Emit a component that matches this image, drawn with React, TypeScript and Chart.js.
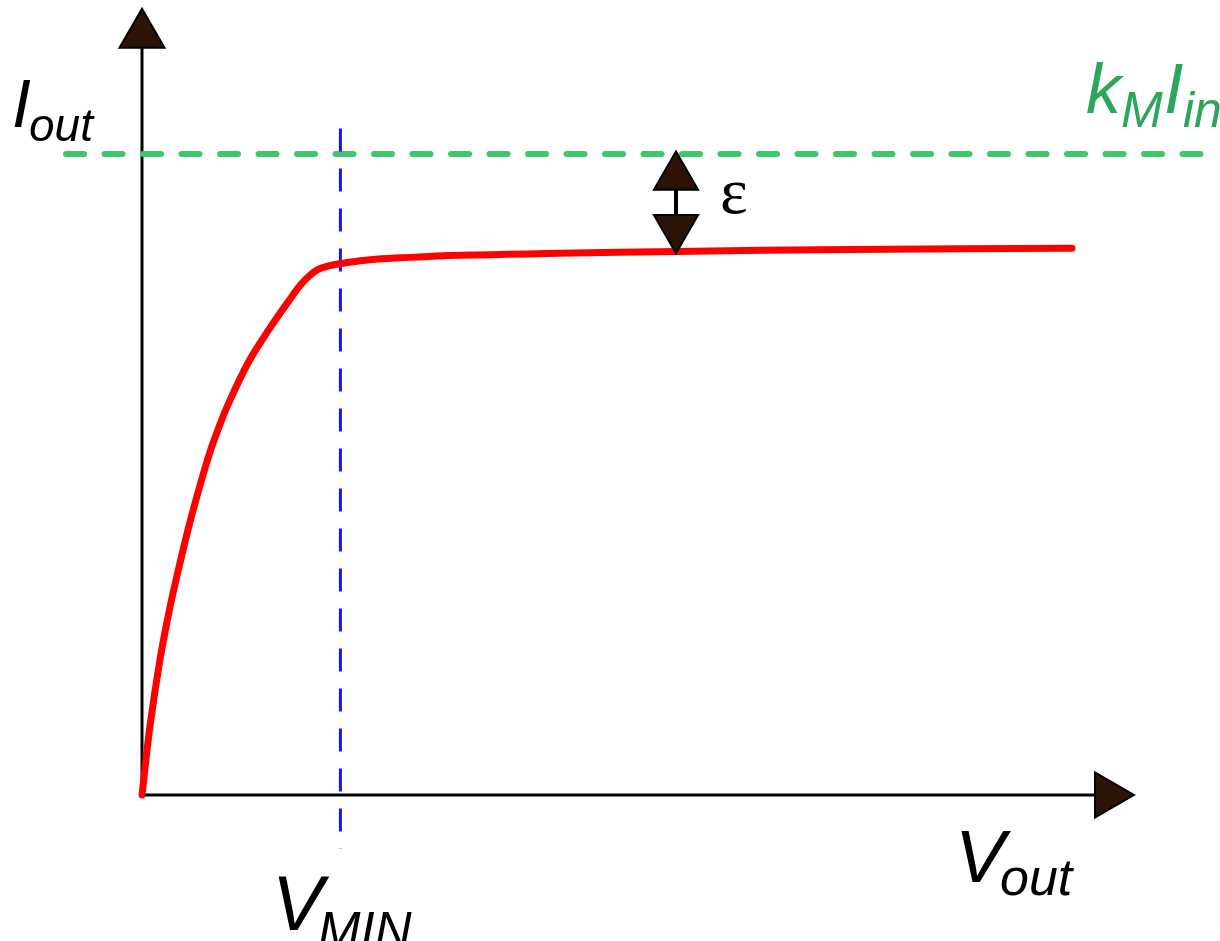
import React, { useEffect, useRef } from "react";
import { Chart, registerables } from "chart.js";
Chart.register(...registerables);

// Output characteristic (normalised: Iout / (kM*Iin), Vout in units of VMIN/2)
const voutValues = [0, 0.081, 0.181, 0.282, 0.383, 0.484, 0.585, 0.685, 0.776, 0.867, 1.069, 1.27, 1.462, 1.623, 1.764, 1.895, 2.046, 2.298, 2.601, 3.206, 4.214, 5.383, 7.137, 9.375];
const ioutValues = [0, 0.108, 0.211, 0.293, 0.362, 0.426, 0.483, 0.535, 0.574, 0.609, 0.674, 0.724, 0.767, 0.8, 0.819, 0.826, 0.83, 0.835, 0.838, 0.842, 0.845, 0.848, 0.851, 0.853];

// Ideal current level kM*Iin
const idealLevel = 1.0;
const idealSpan = [-0.766, 10.77];

// VMIN marker
const vminValue = 2.0;
const vminSpan = [1.04, -0.084];

// Axis extents
const xAxisEnd = 9.63;
const xArrowCenter = 9.738;
const yAxisEnd = 1.165;
const yArrowCenter = 1.186;
const xMax = 10;
const yMax = 1.2278;

// Error (epsilon) marker
const epsX = 5.383;
const epsUpperHead = 0.964;
const epsLowerHead = 0.885;
const epsShaft = [0.949, 0.902];

const W = 1220;
const H = 941;

const ARROW_FILL = "#2b1306";

const labelPlugin = {
  id: "labels",
  afterDatasetsDraw(chart: any) {
    const ctx = chart.ctx as CanvasRenderingContext2D;
    ctx.save();
    ctx.textBaseline = "alphabetic";
    ctx.textAlign = "left";
    const draw = (t: string, x: number, y: number, font: string, color: string) => {
      ctx.font = font;
      ctx.fillStyle = color;
      ctx.fillText(t, x, y);
    };
    const sans = "'Liberation Sans', Arial, sans-serif";
    // I_out
    draw("I", 12, 127, `italic 68px ${sans}`, "#000");
    draw("out", 29, 141, `italic 46px ${sans}`, "#000");
    // kM Iin
    const g = "#2ca65a";
    draw("k", 1086, 113, `italic 70px ${sans}`, g);
    draw("M", 1121, 127, `italic 50px ${sans}`, g);
    draw("I", 1164, 113, `italic 70px ${sans}`, g);
    draw("in", 1183, 127, `italic 50px ${sans}`, g);
    // V_out
    draw("V", 955, 882, `italic 75px ${sans}`, "#000");
    draw("out", 1000, 895, `italic 52px ${sans}`, "#000");
    // V_MIN
    draw("V", 272, 930, `italic 77px ${sans}`, "#000");
    draw("MIN", 318, 948, `italic 51px ${sans}`, "#000");
    // epsilon
    draw("ε", 720, 213, `66px 'Liberation Serif', 'DejaVu Serif', serif`, "#000");
    ctx.restore();
  },
};

export default function App() {
  const ref = useRef<HTMLCanvasElement | null>(null);
  useEffect(() => {
    if (!ref.current) return;
    const pts = (xs: number[], ys: number[]) => xs.map((x, i) => ({ x, y: ys[i] }));
    const base = { showLine: true, pointRadius: 0, clip: false as any, fill: false, tension: 0 };
    const chart = new Chart(ref.current, {
      type: "line",
      data: {
        datasets: [
          // epsilon arrow heads
          {
            ...base,
            showLine: false,
            data: [
              { x: epsX, y: epsUpperHead },
              { x: epsX, y: epsLowerHead },
            ],
            pointStyle: "triangle",
            pointRadius: 25.5,
            pointRotation: [0, 180] as any,
            pointBorderWidth: 2,
            pointBackgroundColor: ARROW_FILL,
            pointBorderColor: "#000",
          } as any,
          {
            ...base,
            data: [
              { x: epsX, y: epsShaft[0] },
              { x: epsX, y: epsShaft[1] },
            ],
            borderColor: "#000",
            borderWidth: 4,
          },
          // red curve
          {
            ...base,
            data: pts(voutValues, ioutValues),
            borderColor: "#ff0000",
            borderWidth: 7,
            tension: 0.4,
            borderCapStyle: "round",
            borderJoinStyle: "round",
          } as any,
          // VMIN dashed line
          {
            ...base,
            data: [
              { x: vminValue, y: vminSpan[0] },
              { x: vminValue, y: vminSpan[1] },
            ],
            borderColor: "#1414ff",
            borderWidth: 3,
            borderDash: [23, 17],
          },
          // ideal level dashed
          {
            ...base,
            data: [
              { x: idealSpan[0], y: idealLevel },
              { x: idealSpan[1], y: idealLevel },
            ],
            borderColor: "#3ec76c",
            borderWidth: 6,
            borderDash: [18, 20.5],
            borderCapStyle: "round",
          } as any,
          // axis arrow heads
          {
            ...base,
            showLine: false,
            data: [
              { x: 0, y: yArrowCenter },
              { x: xArrowCenter, y: 0 },
            ],
            pointStyle: "triangle",
            pointRadius: 26,
            pointRotation: [0, 90] as any,
            pointBorderWidth: 2,
            pointBackgroundColor: ARROW_FILL,
            pointBorderColor: "#000",
          } as any,
          // axes
          {
            ...base,
            data: [
              { x: 0, y: yAxisEnd },
              { x: 0, y: 0 },
              { x: xAxisEnd, y: 0 },
            ],
            borderColor: "#000",
            borderWidth: 3,
          },
        ],
      },
      options: {
        animation: false,
        responsive: false,
        events: [],
        layout: { autoPadding: false, padding: { left: 142, right: W - 1134, top: 8, bottom: H - 795 } },
        plugins: { legend: { display: false }, tooltip: { enabled: false } },
        scales: {
          x: { type: "linear", min: 0, max: xMax, display: false },
          y: { type: "linear", min: 0, max: yMax, display: false },
        },
      } as any,
      plugins: [labelPlugin],
    });
    return () => chart.destroy();
  }, []);
  return (
    <div style={{ position: "fixed", left: 0, top: 0, width: W, height: H, background: "#fff" }}>
      <canvas ref={ref} width={W} height={H} style={{ width: W, height: H, display: "block" }} />
    </div>
  );
}
